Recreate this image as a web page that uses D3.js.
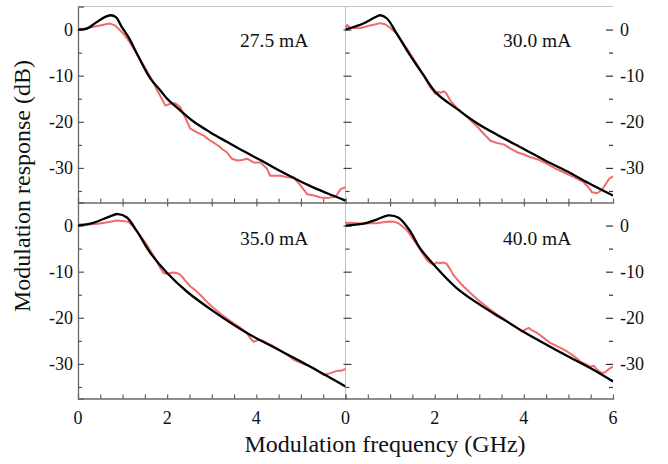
<!DOCTYPE html>
<html><head><meta charset="utf-8">
<script src="https://cdn.jsdelivr.net/npm/d3@7"></script>
<style>body{margin:0;background:#fff}svg{display:block}</style>
</head><body><svg id="c" width="668" height="464"></svg>
<script>
// ---- data (frequency GHz, response dB) ----
const panelLabels = ["27.5 mA", "30.0 mA", "35.0 mA", "40.0 mA"];
const xTicks = [0, 2, 4, 6];
const yTicks = [0, -10, -20, -30];

const fit27 = [[0,0],[0.2,0.2],[0.4,1.5],[0.6,2.7],[0.73,3.1],[0.85,2.7],[0.98,0.6],[1.13,-1.6],[1.32,-5.2],[1.62,-10.6],[1.84,-13.1],[2.0,-15.0],[2.29,-17.5],[2.6,-20.0],[2.97,-22.3],[3.35,-24.4],[3.72,-26.4],[4.09,-28.3],[4.46,-30.3],[4.84,-32.2],[5.2,-33.9],[5.59,-35.5],[6.0,-37.1]];
const meas27 = [[0,0.3],[0.1,0.1],[0.2,0.3],[0.35,0.6],[0.5,0.9],[0.65,1.2],[0.72,1.3],[0.83,0.9],[1.02,-0.9],[1.15,-2.6],[1.27,-4.5],[1.4,-6.6],[1.54,-8.9],[1.62,-10.2],[1.69,-11.4],[1.76,-12.9],[1.84,-14.3],[1.96,-16.5],[2.07,-16.1],[2.18,-16.0],[2.29,-16.8],[2.4,-19.0],[2.52,-21.5],[2.67,-22.3],[2.82,-23.0],[2.97,-24.1],[3.15,-25.2],[3.23,-25.9],[3.34,-26.6],[3.45,-28.0],[3.57,-28.4],[3.68,-28.3],[3.79,-28.0],[3.94,-28.8],[4.09,-28.8],[4.24,-30.2],[4.31,-31.7],[4.54,-31.7],[4.69,-32.0],[4.84,-32.1],[4.99,-33.8],[5.14,-35.7],[5.29,-36.0],[5.44,-36.4],[5.62,-36.5],[5.78,-36.2],[5.89,-34.6],[6.0,-34.2]];

const fit30 = [[0,0],[0.4,1.3],[0.65,2.6],[0.78,3.1],[0.93,2.4],[1.15,-0.9],[1.45,-5.6],[1.75,-9.9],[2.05,-13.9],[2.5,-17.2],[2.95,-20.3],[3.4,-22.8],[4.0,-25.9],[4.52,-28.6],[5.04,-31.1],[5.49,-33.5],[6.0,-36.0]];
const meas30 = [[0,0.3],[0.04,1.0],[0.1,0.4],[0.3,0.3],[0.45,0.6],[0.55,0.9],[0.7,1.2],[0.78,1.4],[0.9,1.1],[1.0,0.4],[1.15,-0.9],[1.3,-3.0],[1.45,-5.2],[1.6,-7.5],[1.71,-9.2],[1.8,-10.8],[1.9,-12.5],[2.01,-13.9],[2.08,-13.5],[2.13,-13.7],[2.2,-13.4],[2.26,-13.8],[2.35,-15.4],[2.5,-17.0],[2.65,-18.3],[2.8,-19.6],[2.95,-21.0],[3.1,-22.6],[3.25,-24.1],[3.4,-24.6],[3.55,-24.9],[3.7,-25.8],[3.85,-26.6],[4.0,-27.1],[4.15,-27.7],[4.35,-28.3],[4.52,-29.1],[4.7,-30.1],[4.9,-31.0],[5.1,-31.9],[5.34,-33.1],[5.45,-34.2],[5.53,-35.3],[5.64,-35.5],[5.72,-35.0],[5.79,-34.2],[5.91,-32.4],[6.0,-31.8]];

const fit35 = [[0,0],[0.34,0.6],[0.72,2.0],[0.9,2.5],[1.09,1.8],[1.32,-1.2],[1.62,-5.9],[2.0,-10.3],[2.44,-14.3],[3.04,-18.6],[3.79,-23.3],[4.39,-26.4],[5.0,-29.5],[6.0,-34.9]];
const meas35 = [[0,0.3],[0.15,0.2],[0.3,0.3],[0.45,0.4],[0.6,0.6],[0.75,0.9],[0.87,1.1],[1.0,1.0],[1.13,0.8],[1.22,0.0],[1.32,-1.2],[1.43,-2.6],[1.54,-4.1],[1.66,-6.0],[1.77,-7.8],[1.85,-9.3],[1.92,-10.3],[2.0,-10.5],[2.07,-10.3],[2.15,-10.2],[2.25,-10.4],[2.33,-11.0],[2.42,-12.1],[2.52,-13.2],[2.63,-14.0],[2.74,-15.0],[2.9,-16.6],[3.04,-17.9],[3.2,-19.2],[3.35,-20.2],[3.49,-21.2],[3.65,-22.2],[3.79,-23.3],[3.87,-24.5],[3.94,-25.2],[4.05,-24.8],[4.15,-25.0],[4.24,-25.5],[4.35,-26.0],[4.46,-26.6],[4.65,-27.8],[4.84,-29.1],[5.05,-30.0],[5.29,-30.9],[5.4,-31.7],[5.51,-32.4],[5.66,-32.0],[5.81,-31.5],[5.9,-31.5],[6.0,-31.1]];

const fit40 = [[0,0],[0.4,0.4],[0.7,1.3],[0.96,2.2],[1.19,1.7],[1.45,-1.2],[1.67,-4.9],[2.01,-8.8],[2.5,-13.6],[3.02,-17.2],[3.55,-20.4],[4.02,-23.2],[4.52,-25.9],[5.04,-28.6],[5.49,-30.9],[6.0,-33.8]];
const meas40 = [[0,0.9],[0.03,0.5],[0.1,0.6],[0.25,0.5],[0.4,0.4],[0.55,0.5],[0.7,0.5],[0.85,0.7],[1.0,0.9],[1.1,0.8],[1.19,0.5],[1.28,-0.2],[1.37,-0.9],[1.48,-2.4],[1.6,-4.1],[1.71,-5.8],[1.82,-7.4],[1.9,-8.1],[1.97,-8.5],[2.05,-8.0],[2.12,-8.1],[2.2,-8.0],[2.27,-8.3],[2.35,-9.5],[2.42,-10.7],[2.53,-12.0],[2.65,-13.2],[2.8,-14.6],[3.02,-16.5],[3.2,-17.9],[3.4,-19.3],[3.55,-20.2],[3.7,-21.2],[3.85,-22.2],[3.96,-23.0],[4.04,-22.5],[4.11,-22.2],[4.2,-22.8],[4.3,-23.3],[4.45,-24.4],[4.6,-25.5],[4.8,-26.4],[4.97,-27.3],[5.12,-28.3],[5.27,-29.5],[5.38,-30.0],[5.49,-30.6],[5.57,-30.4],[5.64,-31.3],[5.72,-31.8],[5.79,-32.0],[5.85,-31.6],[5.91,-31.1],[6.0,-30.6]];

const fits = [fit27, fit30, fit35, fit40];
const meas = [meas27, meas30, meas35, meas40];

// ---- layout ----
const FONT = '"Liberation Serif"';
const X0 = 78, XM = 345.5, X1 = 613;
const Y0 = 6.5, YM = 202.5, Y1 = 398.5;
const svg = d3.select("#c");

const xL = d3.scaleLinear().domain([0, 6]).range([X0, XM]);
const xR = d3.scaleLinear().domain([0, 6]).range([XM, X1]);
const yT = d3.scaleLinear().domain([-37.5, 5]).range([YM, Y0]);
const yB = d3.scaleLinear().domain([-37.5, 5]).range([Y1, YM]);

const panels = [
  {x: xL, y: yT, left: true},
  {x: xR, y: yT, left: false},
  {x: xL, y: yB, left: true},
  {x: xR, y: yB, left: false}
];

function txt(sel) { return sel.style("font-family", FONT).attr("fill", "#111"); }

const defs = svg.append("defs");
panels.forEach((p, i) => {
  const [xa, xb] = p.x.range(); const [ya, yb] = p.y.range();
  defs.append("clipPath").attr("id", "clip" + i).append("rect")
    .attr("x", xa).attr("y", yb).attr("width", xb - xa).attr("height", ya - yb);
});

// frame lines
svg.append("line").attr("x1", X0).attr("x2", X1).attr("y1", Y0).attr("y2", Y0).attr("stroke", "#c8c8c8").attr("stroke-width", 1);
svg.append("line").attr("x1", XM).attr("x2", XM).attr("y1", Y0).attr("y2", Y1).attr("stroke", "#bdbdbd").attr("stroke-width", 1);

const minorY = [-5, -15, -25, -35];
const halfX = d3.range(0.5, 6, 0.5);
const fmtY = d => d === 0 ? "0" : "-" + Math.abs(d);

panels.forEach((p, i) => {
  if (p.left) {
    const ga = svg.append("g").attr("transform", `translate(${X0},0)`).call(d3.axisRight(p.y).tickValues(yTicks).tickSize(6).tickFormat(""));
    ga.select(".domain").attr("stroke", "#6a6a6a").attr("stroke-width", 1.3);
    ga.selectAll(".tick line").attr("stroke", "#555").attr("stroke-width", 1.2);
    const gm = svg.append("g").attr("transform", `translate(${X0},0)`).call(d3.axisRight(p.y).tickValues(minorY).tickSize(4).tickFormat(""));
    gm.select(".domain").remove();
    gm.selectAll(".tick line").attr("stroke", "#555").attr("stroke-width", 1.2);
    txt(svg.append("g").selectAll("text").data(yTicks).join("text")
      .attr("x", 73).attr("y", d => p.y(d)).attr("dy", "0.34em").attr("text-anchor", "end")
      .attr("font-size", 18).text(fmtY));
    const gc = svg.append("g").attr("transform", `translate(${XM},0)`).call(d3.axisRight(p.y).tickValues(yTicks).tickSize(6).tickFormat(""));
    gc.select(".domain").remove();
    gc.selectAll(".tick line").attr("stroke", "#444").attr("stroke-width", 1.2).attr("x1", -2);
    const gc2 = svg.append("g").attr("transform", `translate(${XM},0)`).call(d3.axisRight(p.y).tickValues(minorY).tickSize(4).tickFormat(""));
    gc2.select(".domain").remove();
    gc2.selectAll(".tick line").attr("stroke", "#444").attr("stroke-width", 1.2);
  } else {
    const ar = svg.append("g").attr("transform", `translate(${X1},0)`).call(d3.axisLeft(p.y).tickValues(yTicks).tickSize(7).tickFormat(""));
    ar.select(".domain").remove();
    ar.selectAll(".tick line").attr("stroke", "#333").attr("stroke-width", 1.2);
    const ar2 = svg.append("g").attr("transform", `translate(${X1},0)`).call(d3.axisLeft(p.y).tickValues(minorY).tickSize(4).tickFormat(""));
    ar2.select(".domain").remove();
    ar2.selectAll(".tick line").attr("stroke", "#333").attr("stroke-width", 1.2);
    txt(svg.append("g").selectAll("text").data(yTicks).join("text")
      .attr("x", 620).attr("y", d => p.y(d)).attr("dy", "0.34em").attr("text-anchor", "start")
      .attr("font-size", 18).text(fmtY));
  }
  const yb = p.y.range()[0];
  const gx = svg.append("g").attr("transform", `translate(0,${yb})`).call(d3.axisTop(p.x).tickValues(halfX).tickSize(4).tickFormat(""));
  gx.select(".domain").attr("stroke", "#6a6a6a").attr("stroke-width", 1.3);
  gx.selectAll(".tick line").attr("stroke", "#555").attr("stroke-width", 1.1);
  if (yb === YM) {
    const gx2 = svg.append("g").attr("transform", `translate(0,${YM})`).call(d3.axisBottom(p.x).tickValues([1, 2, 3, 4, 5]).tickSize(4).tickFormat(""));
    gx2.select(".domain").remove();
    gx2.selectAll(".tick line").attr("stroke", "#555").attr("stroke-width", 1.1);
  } else {
    const labs = p.left ? xTicks.slice(0, 3) : xTicks;
    txt(svg.append("g").selectAll("text").data(labs).join("text")
      .attr("x", d => p.x(d)).attr("y", 418).attr("dy", "0.34em").attr("text-anchor", "middle")
      .attr("font-size", 18).text(d => d));
  }

  const cg = svg.append("g").attr("clip-path", `url(#clip${i})`);
  cg.append("path").datum(meas[i]).attr("fill", "none").attr("stroke", "#f26a6a")
    .attr("stroke-width", 2).attr("stroke-linejoin", "round")
    .attr("d", d3.line().x(d => p.x(d[0])).y(d => p.y(d[1])));
  cg.append("path").datum(fits[i]).attr("fill", "none").attr("stroke", "#000")
    .attr("stroke-width", 2.3)
    .attr("d", d3.line().x(d => p.x(d[0])).y(d => p.y(d[1])).curve(d3.curveCatmullRom.alpha(0.5)));

  const lx = p.left ? 240 : 503;
  const ly = yb === YM ? 47 : 245;
  txt(svg.append("text").attr("x", lx).attr("y", ly).attr("font-size", 19.5).text(panelLabels[i]));
});

// axis titles
txt(svg.append("text").attr("x", 385).attr("y", 452).attr("text-anchor", "middle").attr("font-size", 24)
  .text("Modulation frequency (GHz)"));
txt(svg.append("text").attr("transform", `translate(29.5,186) rotate(-90)`).attr("text-anchor", "middle")
  .attr("font-size", 24).text("Modulation response (dB)"));
</script></body></html>
